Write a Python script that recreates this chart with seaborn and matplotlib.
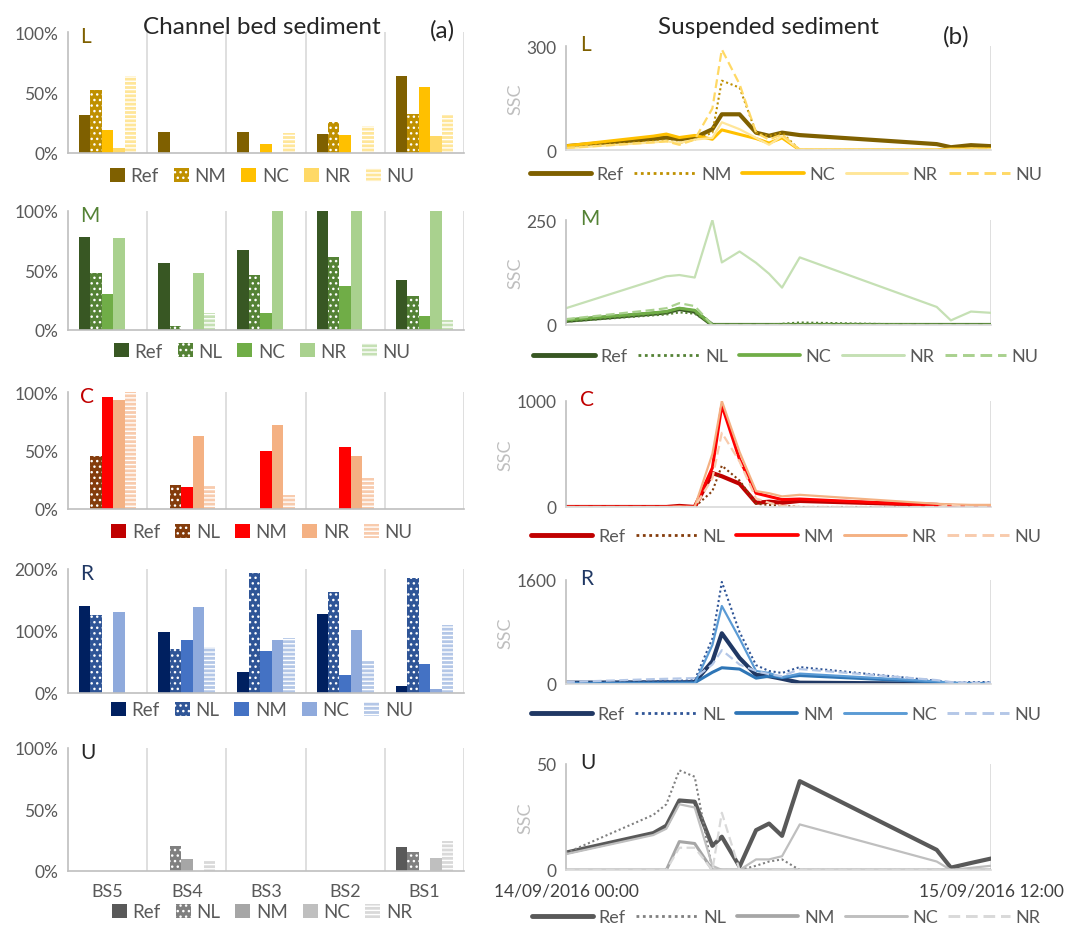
import matplotlib
matplotlib.use("Agg")
import matplotlib.pyplot as plt
from matplotlib.patches import Patch
from matplotlib.lines import Line2D
import pandas as pd
import seaborn as sns

sns.set_style("white")
plt.rcParams['font.family'] = ['Lato', 'DejaVu Sans']
plt.rcParams['hatch.linewidth'] = 1.0

# ---------------- data ----------------
stations = ['BS5', 'BS4', 'BS3', 'BS2', 'BS1']

# channel bed sediment, % per station (BS5..BS1)
bed_L = {'Ref': [31.5, 17.7, 17, 15.7, 64], 'NM': [51.7, 0, 0, 25.7, 32.6],
         'NC': [19, 0, 7.2, 14.6, 54.7], 'NR': [4, 0, 0, 0, 13.8],
         'NU': [63.5, 0, 16.6, 22.7, 32.6]}
bed_M = {'Ref': [78.4, 56.6, 67.2, 100, 42], 'NL': [47.9, 3, 46.5, 61.6, 28.9],
         'NC': [30, 0, 14.6, 36.7, 11.8], 'NR': [77.6, 48.2, 100, 100, 100],
         'NU': [0, 14, 0, 0, 8.7]}
bed_C = {'Ref': [0, 0, 0, 0, 0], 'NL': [45.1, 20.9, 0, 0, 0],
         'NM': [95.7, 19.1, 49.7, 53.4, 0], 'NR': [93.4, 62.3, 71.7, 45.4, 0],
         'NU': [100, 20.9, 12, 26.3, 0]}
bed_R = {'Ref': [140, 98.1, 33.8, 127.6, 11.3], 'NL': [126.5, 71.3, 193.6, 163, 186],
         'NM': [0, 84.7, 67.6, 29, 46.6], 'NC': [130.8, 138.3, 84.7, 101.9, 7],
         'NU': [0, 74, 89.5, 52.5, 109.4]}
bed_U = {'Ref': [0, 0, 0, 0, 19.3], 'NL': [0, 20.4, 0, 0, 15.8],
         'NM': [0, 9.5, 0, 0, 0], 'NC': [0, 0, 0, 0, 10.3],
         'NR': [0, 7.9, 0, 0, 24.2]}

# suspended sediment, hours since 14/09/2016 00:00
time_h = [0, 7.4, 8.5, 9.6, 10.9, 12.4, 13.2, 14.7, 16.1, 17.2, 18.3, 19.8, 31.4, 32.6, 34.3, 36]

ssc_L = {'Ref': [11, 32, 36, 31, 36, 60, 103, 103, 50, 41, 50, 43, 17, 8, 14, 11],
         'NM': [8, 25, 28, 20, 30, 50, 200, 180, 50, 40, 50, 0, 0, 2, 3, 5],
         'NC': [12, 40, 46, 36, 42, 31, 58, 45, 33, 20, 35, 0, 0, 3, 3, 3],
         'NR': [5, 22, 25, 20, 30, 35, 80, 60, 35, 15, 40, 0, 0, 2, 2, 2],
         'NU': [6, 22, 25, 15, 30, 120, 290, 190, 50, 30, 45, 0, 0, 2, 3, 3]}
ssc_M = {'Ref': [10, 27, 30, 38, 32, 0, 0, 0, 0, 0, 0, 0, 0, 0, 0, 0],
         'NL': [8, 23, 25, 30, 27, 0, 0, 0, 0, 0, 3, 6, 0, 0, 0, 0],
         'NC': [12, 29, 32, 40, 35, 0, 0, 0, 0, 0, 0, 0, 0, 0, 0, 0],
         'NR': [40, 106, 116, 119, 113, 250, 149, 175, 148, 122, 89, 161, 43, 11, 32, 29],
         'NU': [14, 36, 40, 52, 45, 0, 0, 0, 0, 0, 0, 0, 0, 0, 0, 0]}
ssc_C = {'Ref': [0, 0, 0, 10, 0, 320, 290, 220, 40, 50, 40, 57, 20, 10, 5, 5],
         'NL': [0, 0, 0, 0, 0, 150, 390, 250, 30, 20, 10, 0, 0, 0, 10, 0],
         'NM': [0, 0, 0, 5, 0, 370, 960, 450, 130, 100, 70, 75, 15, 10, 5, 5],
         'NR': [0, 0, 0, 5, 0, 500, 1000, 520, 150, 130, 100, 115, 30, 25, 20, 20],
         'NU': [0, 0, 0, 0, 0, 270, 700, 430, 80, 40, 10, 0, 0, 20, 0, 0]}
ssc_R = {'Ref': [20, 25, 25, 25, 30, 350, 780, 400, 140, 120, 80, 20, 5, 0, 0, 0],
         'NL': [20, 40, 45, 50, 60, 700, 1570, 800, 290, 200, 170, 260, 50, 20, 30, 30],
         'NM': [10, 15, 15, 18, 20, 180, 250, 230, 90, 120, 100, 130, 30, 10, 5, 5],
         'NC': [5, 8, 8, 9, 10, 600, 1200, 700, 200, 170, 100, 160, 40, 20, 10, 10],
         'NU': [30, 75, 80, 85, 90, 300, 520, 300, 200, 150, 120, 230, 60, 30, 20, 20]}
ssc_U = {'Ref': [8.2, 17.4, 20.9, 32.8, 32.2, 11.4, 15.7, 1.6, 18.8, 21.9, 16.1, 41.9, 9.5, 1.1, 3.3, 5.4],
         'NL': [8, 26, 31, 47, 44, 0, 0, 0, 2, 4, 5, 0, 0, 0, 0, 0],
         'NM': [0, 0, 0, 13.4, 12.5, 0, 0, 0, 0, 0, 0, 0, 0, 0, 0, 0],
         'NC': [7.5, 16.5, 19.5, 31, 29.5, 2, 0, 0, 5, 5, 6.5, 21.5, 4, 0, 1, 2],
         'NR': [0, 0, 0, 10.5, 10.5, 0, 27, 0, 0, 0, 0, 0, 0, 0, 0, 0]}

bar_colors = {
    'L': ['#7f6000', '#bf9000', '#ffc000', '#ffd966', '#ffe699'],
    'M': ['#385723', '#548235', '#70ad47', '#a9d18e', '#c5e0b4'],
    'C': ['#c00000', '#843c0c', '#ff0000', '#f4b183', '#f8cbad'],
    'R': ['#002060', '#2f5597', '#4472c4', '#8faadc', '#b4c7e7'],
    'U': ['#595959', '#808080', '#a6a6a6', '#bfbfbf', '#d9d9d9'],
}
line_colors = {
    'L': ['#7f6000', '#bf9000', '#ffc000', '#ffe699', '#ffd966'],
    'M': ['#385723', '#548235', '#70ad47', '#c5e0b4', '#a9d18e'],
    'C': ['#c00000', '#843c0c', '#ff0000', '#f4b183', '#f8cbad'],
    'R': ['#203864', '#2f5597', '#2e75b6', '#5b9bd5', '#b4c7e7'],
    'U': ['#595959', '#808080', '#a6a6a6', '#bfbfbf', '#d9d9d9'],
}
letter_colors = {'L': '#7f6000', 'M': '#548235', 'C': '#c00000', 'R': '#203864', 'U': '#262626'}
hatches = ['', '...', '', '', '----']
line_styles = ['-', (0, (1, 1.3)), '-', '-', (0, (4, 2))]
line_widths = [3.0, 1.5, 2.2, 1.6, 1.6]

panels = [
    ('L', bed_L, ssc_L, [0, 50, 100], 300, 33, 154, 47, 151, 177, 175),
    ('M', bed_M, ssc_M, [0, 50, 100], 250, 212, 331, 221, 326, 352, 357),
    ('C', bed_C, ssc_C, [0, 50, 100], 1000, 393, 510, 402, 508, 533, 537),
    ('R', bed_R, ssc_R, [0, 100, 200], 1600, 570, 694, 581, 685, 711, 715),
    ('U', bed_U, ssc_U, [0, 50, 100], 50, 749, 872, 765, 871, 913, 918),
]

W, H = 1065, 929
fig = plt.figure(figsize=(W / 100, H / 100), dpi=100)


def px_axes(x0, yt, x1, yb):
    return fig.add_axes([x0 / W, 1 - yb / H, (x1 - x0) / W, (yb - yt) / H])


tick_col = '#595959'
for name, bed, ssc, yt_bar, ymax, t1, b1, t2, b2, leg1, leg2 in panels:
    series = list(bed.keys())
    # ---- bar chart ----
    ax = px_axes(68, t1, 464, b1)
    df = pd.DataFrame([(st, s, v) for s in series for st, v in zip(stations, bed[s])],
                      columns=['station', 'series', 'value'])
    sns.barplot(data=df, x='station', y='value', hue='series', hue_order=series,
                order=stations, palette=bar_colors[name], saturation=1,
                width=0.72, gap=0, linewidth=0, legend=False, ax=ax)
    for i, cont in enumerate(ax.containers):
        for bar in cont:
            bar.set_hatch(hatches[i])
            bar.set_edgecolor('white')
            bar.set_linewidth(0)
    for b in [0.5, 1.5, 2.5, 3.5, 4.5]:
        ax.axvline(b, color='#d9d9d9', lw=1.2, zorder=0)
    ax.set_xlim(-0.5, 4.5)
    ax.set_ylim(0, yt_bar[-1])
    ax.set_yticks(yt_bar)
    ax.set_yticklabels([f'{v}%' for v in yt_bar], color=tick_col, fontsize=12.5)
    ax.set_xlabel('')
    ax.set_ylabel('')
    ax.tick_params(length=0, pad=7)
    if name == 'U':
        ax.set_xticks(range(5))
        ax.set_xticklabels(stations, color=tick_col, fontsize=13)
        ax.tick_params(axis='x', pad=9)
    else:
        ax.set_xticks([])
    for s in ['top', 'right']:
        ax.spines[s].set_visible(False)
    ax.spines['left'].set_color('#bfbfbf')
    ax.spines['bottom'].set_color('#bfbfbf')
    ax.spines['left'].set_linewidth(1.2)
    ax.spines['bottom'].set_linewidth(1.2)
    fig.text(80 / W, 1 - (t1 - 6) / H, name, color=letter_colors[name], fontsize=15,
             va='top', ha='left')
    handles = [Patch(facecolor=c, hatch=h, edgecolor='white', linewidth=0)
               for c, h in zip(bar_colors[name], hatches)]
    fig.legend(handles, series, loc='center', bbox_to_anchor=(262 / W, 1 - leg1 / H),
               ncol=5, frameon=False, fontsize=13.5, labelcolor=tick_col,
               handlelength=0.8, handleheight=0.8, handletextpad=0.3, columnspacing=0.8)

    # ---- SSC line chart ----
    ax2 = px_axes(566, t2, 991, b2)
    for i, s in enumerate(series):
        sns.lineplot(x=time_h, y=ssc[s], ax=ax2, color=line_colors[name][i],
                     lw=line_widths[i], linestyle=line_styles[i])
    ax2.set_xlim(0, 36)
    ax2.set_ylim(0, ymax)
    ax2.set_yticks([0, ymax])
    ax2.set_yticklabels([0, ymax], color=tick_col, fontsize=12.5)
    ax2.axvline(36, color='#d9d9d9', lw=1.2, zorder=0)
    ax2.set_ylabel('SSC', color='#bfbfbf', fontsize=13, labelpad=2)
    ax2.tick_params(length=0, pad=7)
    if name == 'U':
        ax2.set_xticks([0, 36])
        ax2.set_xticklabels(['14/09/2016 00:00', '15/09/2016 12:00'],
                            color='#404040', fontsize=12.5)
        ax2.tick_params(axis='x', pad=9)
    else:
        ax2.set_xticks([])
    for s in ['top', 'right']:
        ax2.spines[s].set_visible(False)
    ax2.spines['left'].set_color('#bfbfbf')
    ax2.spines['bottom'].set_color('#d9d9d9')
    ax2.spines['left'].set_linewidth(1.2)
    ax2.spines['bottom'].set_linewidth(1.2)
    fig.text(580 / W, 1 - (t2 - 12) / H, name, color=letter_colors[name], fontsize=15,
             va='top', ha='left')
    lhandles = [Line2D([0], [0], color=line_colors[name][i], lw=line_widths[i] + 0.5,
                       linestyle=line_styles[i]) for i in range(5)]
    fig.legend(lhandles, series, loc='center', bbox_to_anchor=(786 / W, 1 - leg2 / H),
               ncol=5, frameon=False, fontsize=13, labelcolor=tick_col,
               handlelength=3.4, handletextpad=0.3, columnspacing=0.6)

fig.text(262 / W, 1 - 28 / H, 'Channel bed sediment', fontsize=17.5, ha='center', va='center')
fig.text(442 / W, 1 - 31 / H, '(a)', fontsize=17.5, ha='center', va='center')
fig.text(768 / W, 1 - 27 / H, 'Suspended sediment', fontsize=17.5, ha='center', va='center')
fig.text(956 / W, 1 - 37 / H, '(b)', fontsize=17.5, ha='center', va='center')

fig.savefig('out.png', dpi=100)
